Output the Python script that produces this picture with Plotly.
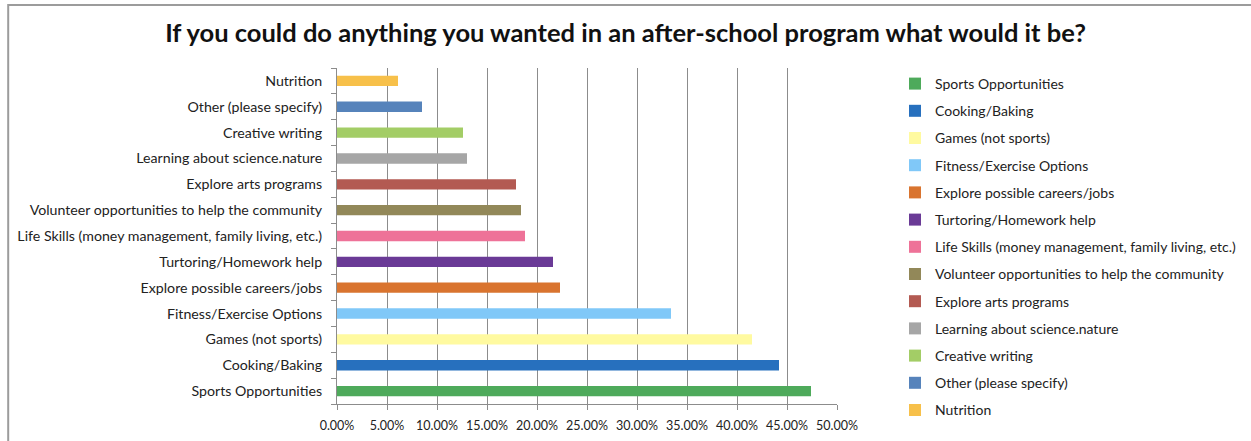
import plotly.graph_objects as go

categories = [
    "Sports Opportunities",
    "Cooking/Baking",
    "Games (not sports)",
    "Fitness/Exercise Options",
    "Explore possible careers/jobs",
    "Turtoring/Homework help",
    "Life Skills (money management, family living, etc.)",
    "Volunteer opportunities to help the community",
    "Explore arts programs",
    "Learning about science.nature",
    "Creative writing",
    "Other (please specify)",
    "Nutrition",
]
values = [0.474, 0.442, 0.415, 0.334, 0.223, 0.216, 0.188, 0.184, 0.179, 0.130, 0.126, 0.085, 0.061]
colors = ["#4EAA5B", "#2770BE", "#FFFAA0", "#80C8F8", "#D9742F", "#6A3A96", "#EE7298",
          "#928859", "#B35A52", "#A6A6A6", "#A3CD66", "#5683BB", "#F7C04A"]
x_ticks = [0, 0.05, 0.10, 0.15, 0.20, 0.25, 0.30, 0.35, 0.40, 0.45, 0.50]

FONT = "Lato"
W, H = 1251, 441

fig = go.Figure()
for cat, val, col in zip(categories, values, colors):
    fig.add_trace(go.Bar(
        y=[cat], x=[val], orientation="h", name=cat, legendgroup=cat,
        marker=dict(color=col, line=dict(width=0)), width=0.4,
    ))

fig.update_layout(
    width=W, height=H,
    margin=dict(l=337, r=414, t=68, b=37),
    paper_bgcolor="white", plot_bgcolor="white",
    barmode="overlay",
    font=dict(family=FONT, size=14, color="#222222"),
    title=dict(text="<b>If you could do anything you wanted in an after-school program what would it be?</b>",
               x=0.5, xanchor="center", y=1 - 33 / H, yanchor="middle",
               font=dict(family=FONT, size=25.5, color="#111111")),
    xaxis=dict(range=[0, 0.5], tickvals=x_ticks, tickformat=".2%",
               showgrid=True, gridcolor="#8C8C8C", gridwidth=1,
               showline=True, linecolor="#8C8C8C", linewidth=1,
               ticks="outside", ticklen=5, tickcolor="#8C8C8C",
               ticklabelstandoff=5,
               zeroline=False, fixedrange=True, automargin=False,
               tickfont=dict(family=FONT, size=12.5, color="#222222")),
    yaxis=dict(type="category", categoryorder="array", categoryarray=categories,
               showline=True, linecolor="#8C8C8C", linewidth=1,
               ticks="outside", ticklen=5, tickcolor="#8C8C8C", tickson="boundaries",
               ticklabelstandoff=11,
               showgrid=False, fixedrange=True, automargin=False,
               tickfont=dict(family=FONT, size=14.2, color="#222222")),
    legend=dict(xref="container", yref="container",
                x=895 / W, xanchor="left", y=1 - 68 / H, yanchor="top",
                traceorder="grouped", tracegroupgap=6, maxheight=440,
                font=dict(family=FONT, size=14, color="#222222"),
                itemclick=False, itemdoubleclick=False),
    showlegend=True,
)

fig.add_shape(type="rect", xref="paper", yref="paper",
              x0=(8 - 337) / 500.3, x1=2.2, y0=-0.5, y1=(404 - 5) / 336,
              line=dict(color="#9C9C9C", width=2), fillcolor="rgba(0,0,0,0)", layer="below")

fig.write_html("out.html", config={"displayModeBar": False},
               post_script="document.body.style.margin='0';document.body.style.overflow='hidden';")
